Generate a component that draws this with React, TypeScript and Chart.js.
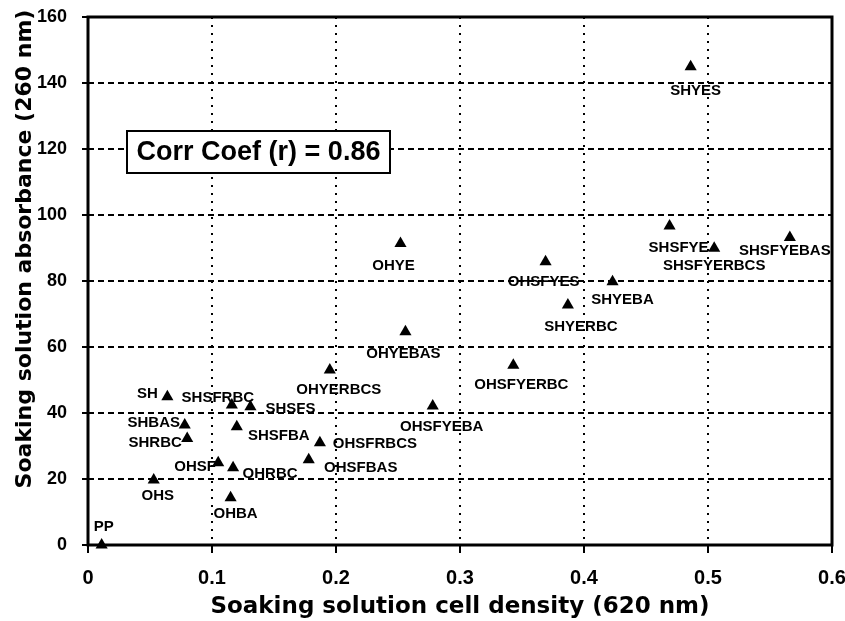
import React, { useEffect, useRef } from "react";
import { Chart, registerables } from "chart.js";

Chart.register(...registerables);

// ---- data ----
const sampleNames = [
  "PP", "OHS", "OHBA", "OHSF", "OHRBC", "SHRBC", "SHBAS", "SH", "SHSFRBC", "SHSFS",
  "SHSFBA", "OHSFRBCS", "OHSFBAS", "OHYERBCS", "OHYEBAS", "OHSFYEBA", "OHYE", "SHYES",
  "SHSFYE", "SHSFYERBCS", "SHSFYEBAS", "OHSFYES", "SHYEBA", "SHYERBC", "OHSFYERBC",
];
const cellDensity = [
  0.011, 0.053, 0.115, 0.105, 0.117, 0.080, 0.078, 0.064, 0.116, 0.131,
  0.120, 0.187, 0.178, 0.195, 0.256, 0.278, 0.252, 0.486,
  0.469, 0.505, 0.566, 0.369, 0.423, 0.387, 0.343,
];
const absorbance = [
  0, 19.7, 14.3, 24.9, 23.4, 32.3, 36.4, 44.9, 42.4, 41.9,
  35.8, 31.0, 25.8, 53.0, 64.6, 42.1, 91.4, 144.9,
  96.7, 89.9, 93.2, 85.8, 79.8, 72.7, 54.5,
];
const xTickValues = [0, 0.1, 0.2, 0.3, 0.4, 0.5, 0.6];
const xTickLabels = ["0", "0.1", "0.2", "0.3", "0.4", "0.5", "0.6"];
const yTickValues = [0, 20, 40, 60, 80, 100, 120, 140, 160];
const yTickLabels = ["0", "20", "40", "60", "80", "100", "120", "140", "160"];
const xTitle = "Soaking solution cell density (620 nm)";
const yTitle = "Soaking solution absorbance (260 nm)";
const corrText = "Corr Coef (r) = 0.86";

// label placement (pixel offsets of label centre from marker), style only
const labelOffsets: [number, number][] = [
  [2, -18], [4, 16], [5, 16], [-23, 4], [37, 6], [-32, 4], [-31, -2], [-20, -3], [-14, -7], [40, 2],
  [42, 9], [55, 1], [52, 8], [9, 20], [-2, 22], [9, 21], [-7, 22], [5, 24],
  [9, 22], [0, 18], [-5, 13], [-2, 20], [10, 18], [13, 22], [8, 20],
];

const ARIAL = "'Liberation Sans', Arial, sans-serif";

const overlayPlugin = {
  id: "overlay",
  beforeDatasetsDraw(chart: any) {
    const { ctx, chartArea } = chart;
    ctx.save();
    ctx.strokeStyle = "#000";
    ctx.lineWidth = 3;
    ctx.strokeRect(chartArea.left, chartArea.top, chartArea.right - chartArea.left, chartArea.bottom - chartArea.top);
    ctx.restore();
  },
  afterDatasetsDraw(chart: any) {
    const { ctx, chartArea } = chart;
    const meta = chart.getDatasetMeta(0);
    ctx.save();
    ctx.fillStyle = "#000";
    ctx.font = "bold 15px " + ARIAL;
    ctx.textAlign = "center";
    ctx.textBaseline = "middle";
    meta.data.forEach((pt: any, i: number) => {
      const [dx, dy] = labelOffsets[i];
      ctx.fillText(sampleNames[i], pt.x + dx, pt.y + dy);
    });

    // correlation box
    const bx = chartArea.left + 39;
    const by = chartArea.top + 114;
    const bw = 263;
    const bh = 42;
    ctx.fillStyle = "#fff";
    ctx.fillRect(bx, by, bw, bh);
    ctx.strokeStyle = "#000";
    ctx.lineWidth = 2;
    ctx.strokeRect(bx, by, bw, bh);
    ctx.fillStyle = "#000";
    ctx.font = "bold 27px " + ARIAL;
    ctx.fillText(corrText, bx + bw / 2, by + bh / 2 + 1);

    // axis titles
    ctx.font = "bold 23px 'DejaVu Sans', sans-serif";
    ctx.textBaseline = "alphabetic";
    ctx.fillText(xTitle, (chartArea.left + chartArea.right) / 2, 613);
    ctx.save();
    ctx.translate(31, 249);
    ctx.rotate(-Math.PI / 2);
    ctx.font = "bold 22px 'DejaVu Sans', sans-serif";
    ctx.fillText(yTitle, 0, 0);
    ctx.restore();
    ctx.restore();
  },
};

export default function App() {
  const canvasRef = useRef<HTMLCanvasElement | null>(null);

  useEffect(() => {
    if (!canvasRef.current) return;
    const points = cellDensity.map((x, i) => ({ x, y: absorbance[i] }));
    const chart = new Chart(canvasRef.current, {
      type: "scatter",
      data: {
        datasets: [
          {
            data: points,
            pointStyle: "triangle",
            pointRadius: 7,
            backgroundColor: "#000",
            borderColor: "#000",
            borderWidth: 0,
            clip: false,
          } as any,
        ],
      },
      options: {
        responsive: false,
        animation: false,
        events: [],
        layout: { padding: { top: 17, right: 13, left: 0, bottom: 0 } },
        plugins: { legend: { display: false }, tooltip: { enabled: false } },
        scales: {
          x: {
            type: "linear",
            min: 0,
            max: 0.6,
            afterFit: (scale: any) => {
              scale.height = 76;
              scale.paddingLeft = 0;
              scale.paddingRight = 0;
            },
            afterBuildTicks: (scale: any) => {
              scale.ticks = xTickValues.map((v) => ({ value: v }));
            },
            ticks: {
              color: "#000",
              padding: 13,
              maxRotation: 0,
              autoSkip: false,
              font: { family: ARIAL, size: 20, weight: "bold" },
              callback: (_v: any, i: number) => xTickLabels[i],
            },
            grid: {
              color: "#000",
              lineWidth: 2,
              tickLength: 8,
              tickColor: "#000",
              tickWidth: 2,
            },
            border: { display: false, dash: [2, 6] },
          },
          y: {
            type: "linear",
            min: 0,
            max: 160,
            afterFit: (scale: any) => {
              scale.width = 88;
              scale.paddingTop = 0;
              scale.paddingBottom = 0;
            },
            afterBuildTicks: (scale: any) => {
              scale.ticks = yTickValues.map((v) => ({ value: v }));
            },
            ticks: {
              color: "#000",
              padding: 15,
              autoSkip: false,
              font: { family: ARIAL, size: 18, weight: "bold" },
              callback: (_v: any, i: number) => yTickLabels[i],
            },
            grid: {
              color: "#000",
              lineWidth: 2,
              tickLength: 6,
              tickColor: "#000",
              tickWidth: 2,
            },
            border: { display: false, dash: [6, 4] },
          },
        },
      } as any,
      plugins: [overlayPlugin],
    });
    return () => chart.destroy();
  }, []);

  return (
    <div style={{ position: "absolute", left: 0, top: 0, width: 845, height: 621, background: "#fff" }}>
      <canvas ref={canvasRef} width={845} height={621} style={{ width: 845, height: 621, display: "block" }} />
    </div>
  );
}
